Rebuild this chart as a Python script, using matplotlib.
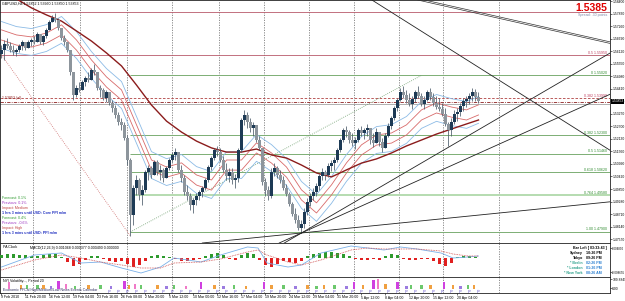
import numpy as np
import matplotlib
matplotlib.use("Agg")
import matplotlib.pyplot as plt

plt.rcParams['font.family'] = ['Liberation Sans', 'DejaVu Sans']
NARROW = ['Liberation Sans Narrow', 'Liberation Sans', 'DejaVu Sans']

# ---------------- data ----------------
# GBPUSD candles (prices in pips, 1 pip = 0.0001); each candle = 8 hours
open0_pips = 15600
high_pips = [15640, 15663, 15672, 15654, 15640, 15627, 15645, 15663, 15654, 15663,
             15672, 15681, 15699, 15690, 15686, 15718, 15754, 15777, 15786, 15763,
             15718, 15686, 15654, 15618, 15517, 15458, 15472, 15481, 15499, 15517,
             15536, 15554, 15517, 15458, 15445, 15436, 15426, 15390, 15367, 15335,
             15308, 15290, 15231, 15126, 15003, 15049, 15035, 15003, 15072, 15094,
             15090, 15117, 15117, 15094, 15081, 15090, 15126, 15153, 15172, 15153,
             15094, 15049, 15003, 14967, 14944, 14967, 14981, 14999, 15035, 15094,
             15135, 15172, 15181, 15172, 15135, 15103, 15081, 15081, 15053, 15172,
             15308, 15345, 15335, 15308, 15290, 15272, 15226, 15172, 15035, 14999,
             15081, 15103, 15090, 15072, 15044, 15008, 14971, 14926, 14899, 14867,
             14844, 14899, 14944, 14967, 14990, 15012, 15053, 15081, 15072, 15103,
             15117, 15131, 15172, 15217, 15263, 15272, 15254, 15240, 15222, 15263,
             15272, 15263, 15281, 15254, 15240, 15263, 15244, 15217, 15240, 15285,
             15317, 15363, 15399, 15445, 15454, 15436, 15422, 15408, 15436, 15454,
             15422, 15408, 15436, 15445, 15422, 15408, 15399, 15376, 15354, 15290,
             15308, 15345, 15354, 15376, 15399, 15408, 15422, 15445, 15440, 15426]
low_pips = [15581, 15572, 15627, 15608, 15595, 15590, 15608, 15618, 15618, 15627,
            15636, 15645, 15654, 15645, 15640, 15672, 15709, 15745, 15745, 15709,
            15663, 15640, 15608, 15504, 15390, 15404, 15426, 15436, 15454, 15472,
            15490, 15504, 15436, 15404, 15390, 15381, 15367, 15335, 15308, 15276,
            15254, 15208, 15094, 14771, 14821, 14958, 14935, 14912, 14971, 15026,
            15035, 15062, 15049, 15026, 15017, 15035, 15072, 15108, 15117, 15062,
            15017, 14958, 14935, 14890, 14876, 14912, 14935, 14949, 14981, 15017,
            15072, 15117, 15135, 15108, 15062, 15026, 15017, 15008, 14990, 15017,
            15153, 15276, 15263, 15244, 15226, 15199, 15163, 15003, 14953, 14935,
            14944, 15044, 15035, 15012, 14981, 14953, 14908, 14862, 14830, 14799,
            14785, 14808, 14867, 14908, 14935, 14953, 14981, 15026, 15026, 15040,
            15067, 15072, 15108, 15153, 15199, 15222, 15194, 15181, 15167, 15199,
            15226, 15213, 15226, 15190, 15176, 15199, 15181, 15153, 15176, 15222,
            15258, 15299, 15340, 15385, 15399, 15376, 15363, 15349, 15381, 15399,
            15363, 15349, 15385, 15390, 15363, 15349, 15340, 15317, 15272, 15181,
            15226, 15281, 15294, 15317, 15340, 15358, 15372, 15385, 15385, 15376]
close_pips = [15618, 15645, 15636, 15618, 15608, 15618, 15636, 15654, 15627, 15654,
              15663, 15654, 15690, 15654, 15681, 15709, 15745, 15763, 15754, 15718,
              15672, 15654, 15618, 15517, 15413, 15445, 15436, 15472, 15490, 15481,
              15527, 15517, 15445, 15436, 15399, 15426, 15376, 15354, 15322, 15290,
              15276, 15217, 15117, 14867, 14990, 15026, 14958, 14981, 15062, 15081,
              15049, 15108, 15062, 15072, 15035, 15081, 15117, 15140, 15153, 15072,
              15035, 14971, 14953, 14912, 14935, 14953, 14971, 14990, 15026, 15085,
              15126, 15163, 15153, 15117, 15072, 15044, 15062, 15026, 15035, 15163,
              15299, 15322, 15290, 15263, 15276, 15208, 15172, 15017, 14981, 14953,
              15062, 15081, 15049, 15026, 14990, 14962, 14917, 14871, 14844, 14808,
              14826, 14880, 14926, 14953, 14971, 14999, 15044, 15062, 15049, 15090,
              15103, 15117, 15163, 15208, 15254, 15244, 15208, 15194, 15208, 15254,
              15240, 15254, 15263, 15208, 15194, 15244, 15199, 15172, 15226, 15272,
              15308, 15354, 15390, 15426, 15413, 15390, 15372, 15395, 15426, 15408,
              15372, 15390, 15426, 15404, 15376, 15358, 15349, 15326, 15281, 15254,
              15290, 15326, 15335, 15363, 15385, 15395, 15408, 15426, 15404, 15385]

# moving averages read at sparse candles (pips)
ma_idx = [0, 5, 10, 15, 20, 25, 30, 35, 40, 45, 50, 55, 60, 65, 70, 75, 80,
          85, 90, 95, 100, 105, 110, 115, 120, 125, 130, 135, 140, 145, 150, 155, 159]
slow_ma_pips = [15881, 15850, 15809, 15777, 15749, 15704, 15658, 15604, 15545, 15458,
                15367, 15294, 15244, 15203, 15172, 15153, 15153, 15167, 15140, 15126,
                15094, 15058, 15040, 15072, 15103, 15122, 15149, 15181, 15208, 15235,
                15258, 15281, 15299]
env_mid_pips = [15686, 15663, 15654, 15672, 15709, 15640, 15549, 15472, 15413, 15254,
                15094, 15062, 15081, 15026, 15003, 15094, 15094, 15172, 15126, 15062,
                14958, 14899, 14981, 15081, 15163, 15208, 15217, 15254, 15322, 15354,
                15335, 15322, 15345]
env_inner_pips = 23
env_outer_pips = 61

# horizontal levels
red_levels = [1.5790, 1.5595]
red_level_labels = ["", "0.5 1.55950"]
red_dash_level = 1.5399
red_dash_label = "0.382 1.53990"
bid_level = 1.5385
fib_start_idx = 43
fib_levels = [1.5502, 1.5230, 1.5146, 1.5062, 1.4958, 1.4790]
fib_labels = ["0 1.55020", "0.382 1.52300", "0.5 1.51460", "0.618 1.50620",
              "0.764 1.49580", "1.00 1.47900"]

# trend lines (candle index, price)
low_anchor = (100, 1.4785)
fan_targets = [(166, 1.4876), (166, 1.5190), (176, 1.5390)]
desc_line = [(133, 1.5763), (203, 1.5160)]
chan_line = [(141, 1.5845), (203, 1.5654)]
dot_red = [(0, 1.5595), (43, 1.4771)]
dot_green = [(43, 1.4790), (140, 1.5502)]

week_sep_idx = [10.5, 26.2, 41.8, 56.8, 72.5, 87.5, 102.5, 117.5, 132.5, 147.2, 166.0]

time_tick_idx = [0, 8, 16, 24, 32, 40, 48, 56, 64, 72, 80, 88, 96, 104, 112, 120,
                 128, 136, 144, 152]
time_labels = ["9 Feb 2010", "11 Feb 20:00", "16 Feb 12:00", "19 Feb 04:00",
               "23 Feb 16:00", "26 Feb 08:00", "2 Mar 20:00", "5 Mar 12:00",
               "10 Mar 00:00", "12 Mar 16:00", "17 Mar 04:00", "19 Mar 20:00",
               "24 Mar 12:00", "29 Mar 04:00", "31 Mar 20:00", "5 Apr 12:00",
               "8 Apr 04:00", "12 Apr 20:00", "15 Apr 12:00", "20 Apr 04:00"]
price_ticks = [1.47570, 1.48140, 1.48710, 1.49280, 1.49850, 1.50420, 1.50990,
               1.51560, 1.52130, 1.52700, 1.53270, 1.53840, 1.54410, 1.54980,
               1.55550, 1.56120, 1.56690, 1.57260, 1.57830, 1.58400]

# MACD panel
hist_idx = [0, 2, 4, 6, 8, 10, 12, 14, 16, 18, 20, 22, 24, 26, 28, 30, 32, 34, 36, 38,
            40, 42, 44, 46, 48, 50, 52, 54, 56, 58, 60, 62, 64, 66, 68, 70, 72, 74, 76, 78,
            80, 82, 84, 86, 88, 90, 92, 94, 96, 98, 100, 102, 104, 106, 108, 110, 112, 114,
            116, 118, 120, 122, 124, 126, 128, 130, 132, 134, 136, 138, 140, 142, 144, 146,
            148, 150, 152, 154, 156, 158]
hist_vals = [0.0015, 0.0020, 0.0020, 0.0015, 0.0015, 0.0010, 0.0010, 0.0015, 0.0020, 0.0020,
             0.0005, -0.0020, -0.0040, -0.0030, -0.0010, 0.0010, 0.0010, -0.0005, -0.0015, -0.0020,
             -0.0015, -0.0030, -0.0045, -0.0035, -0.0015, 0.0010, 0.0015, 0.0010, 0.0005, -0.0005,
             -0.0015, -0.0015, -0.0010, -0.0005, 0.0010, 0.0020, 0.0025, 0.0015, -0.0005, -0.0010,
             0.0015, 0.0025, 0.0020, -0.0010, -0.0035, -0.0045, -0.0030, -0.0015, -0.0020, -0.0025,
             -0.0015, 0.0010, 0.0020, 0.0025, 0.0030, 0.0030, 0.0025, 0.0020, 0.0010, -0.0005,
             -0.0010, -0.0010, -0.0005, -0.0010, 0.0010, 0.0020, 0.0015, -0.0005, -0.0010, -0.0010,
             -0.0005, -0.0005, -0.0015, -0.0030, -0.0040, -0.0025, 0.0005, 0.0010, 0.0010, 0.0005]
macd_idx = [0, 11, 20, 26.5, 33, 40, 46.5, 53, 57.5, 66.5, 73, 82, 85.5, 88.5, 95.5, 100,
            106.5, 116.5, 122, 127.5, 133, 138.5, 146.5, 150.5, 155.5, 159]
macd_main = [-0.0045, 0.0015, 0.0025, -0.0025, -0.0020, -0.0050, -0.0075, -0.0045, 0.0000,
             -0.0020, 0.0015, 0.0055, 0.0050, -0.0025, -0.0045, -0.0035, 0.0025, 0.0060,
             0.0050, 0.0040, 0.0055, 0.0045, 0.0025, 0.0000, 0.0005, 0.0010]
macd_signal = [-0.0060, -0.0010, 0.0015, 0.0000, -0.0020, -0.0035, -0.0050, -0.0050, -0.0025,
               -0.0020, -0.0005, 0.0030, 0.0040, 0.0015, -0.0020, -0.0035, -0.0010, 0.0040,
               0.0050, 0.0045, 0.0045, 0.0045, 0.0035, 0.0020, 0.0010, 0.0010]

# volatility / news panel
vol_idx = [2.5, 6.5, 8.5, 12, 14, 16.5, 19, 21.5, 24.5, 29, 33, 36.5, 41, 42.5, 44.5, 46.5,
           52, 55, 57.5, 61.5, 66.5, 71, 74, 77.5, 81.5, 87.5, 90, 94, 98, 102, 105, 107.5,
           111, 115, 117.5, 120.5, 124, 125.5, 128, 132, 135, 136.5, 140, 143, 147.5, 150.5,
           153, 155.5, 157.5]
vol_h = [8, 5, 4, 4, 5, 3, 9, 6, 3, 5, 4, 3, 9, 5, 6, 4, 5, 3, 4, 3, 8, 5, 3, 4, 3, 8, 5, 4,
         3, 5, 3, 5, 4, 3, 8, 5, 10, 11, 6, 8, 3, 4, 4, 5, 8, 4, 3, 4, 5]
vol_kind = ["p", "o", "g", "g", "o", "v", "m", "p", "g", "o", "g", "v", "m", "o", "p", "g",
            "o", "v", "g", "p", "m", "o", "v", "g", "o", "m", "o", "g", "v", "o", "g", "o",
            "g", "v", "m", "o", "m", "p", "o", "m", "v", "g", "g", "o", "m", "o", "v", "g", "o"]
event_idx = [36, 39, 42, 45, 48, 51, 54, 57, 60, 63, 66, 69, 72, 75, 78, 81, 84, 87, 90, 93,
             96, 99, 102, 105, 108, 111, 114, 117, 120, 123, 126, 129, 132, 135, 138, 141,
             144, 147, 150, 153, 156, 159]

news_lines = [("Forecast: 0.1%", "#2e9a2e"), ("Previous: 0.1%", "#9a30c0"),
              ("Impact: Medium", "#c04040"), ("1 hrs 3 mins until USD: Core PPI m/m", "#1f2fc0"),
              ("Forecast: 0.4%", "#2e9a2e"), ("Previous: -0.6%", "#9a30c0"),
              ("Impact: High", "#c04040"), ("1 hrs 3 mins until USD: PPI m/m", "#1f2fc0")]
clock_rows = [("Sydney", "10:26 PM", "black", "black"), ("Tokyo", "09:26 PM", "black", "black"),
              ("* Berlin", "02:26 PM", "#2aa08a", "#2a7fd0"), ("* London", "01:26 PM", "#2aa08a", "#2a7fd0"),
              ("* New York", "08:26 AM", "#2aa08a", "#2a7fd0")]

# ---------------- figure ----------------
W, H = 625, 301
PXR = 610
fig = plt.figure(figsize=(W / 100, H / 100), dpi=100)
fig.patch.set_facecolor("white")


def rect(x0, y0, x1, y1):
    return [x0 / W, 1 - y1 / H, (x1 - x0) / W, (y1 - y0) / H]


def ftext(x, y, s, **kw):
    fig.text(x / W, 1 - y / H, s, **kw)


ax = fig.add_axes(rect(0, 0, PXR, 243))
axm = fig.add_axes(rect(0, 243, PXR, 277))
axv = fig.add_axes(rect(0, 277, PXR, 293))
XL = (-0.5, (PXR - 1.5) / 3)
TS = 2.6
for a in (ax, axm, axv):
    a.set_xlim(*XL)
    for s in a.spines.values():
        s.set_linewidth(0.6)
        s.set_color("#202020")
    a.yaxis.tick_right()
    a.tick_params(axis="y", length=1.2, width=0.4, labelsize=2.4, pad=0.5, colors="black")
    a.tick_params(axis="x", length=0, labelbottom=False)
    for xs in week_sep_idx:
        a.axvline(xs, color="#505050", lw=0.45, ls=(0, (2, 2)), zorder=0)

ax.set_ylim(1.47394, 1.5845)

o = np.array([open0_pips] + close_pips[:-1]) * 1e-4
c = np.array(close_pips) * 1e-4
hi = np.maximum(np.array(high_pips) * 1e-4, np.maximum(o, c))
lo = np.minimum(np.array(low_pips) * 1e-4, np.minimum(o, c))
xi = np.arange(len(c))
up = c >= o
ax.vlines(xi, lo, hi, color="#4a5a68", lw=0.55, zorder=4)
body_b = np.minimum(o, c)
body_h = np.maximum(np.abs(c - o), 0.00006)
ax.bar(xi[up], body_h[up], bottom=body_b[up], width=0.7, color="#1d3a55", lw=0, zorder=5)
ax.bar(xi[~up], body_h[~up], bottom=body_b[~up], width=0.7, color="#8d959c", lw=0, zorder=5)

mi = np.array(ma_idx)
mid = np.array(env_mid_pips) * 1e-4
ax.plot(mi, mid + env_outer_pips * 1e-4, color="#8cbbe6", lw=0.6, zorder=3)
ax.plot(mi, mid - env_outer_pips * 1e-4, color="#8cbbe6", lw=0.6, zorder=3)
ax.plot(mi, mid + env_inner_pips * 1e-4, color="#d86a6a", lw=0.6, zorder=3)
ax.plot(mi, mid - env_inner_pips * 1e-4, color="#d86a6a", lw=0.6, zorder=3)
ax.plot(mi, np.array(slow_ma_pips) * 1e-4, color="#8b1c1c", lw=1.0, zorder=3)

# horizontal levels
for lv, lb in zip(red_levels, red_level_labels):
    ax.axhline(lv, color="#b85a6a", lw=0.6, zorder=2)
    if lb:
        ax.text(XL[1] - 1, lv + 0.0002, lb, fontsize=TS, color="#c04060", ha="right",
                va="bottom", family=NARROW)
ax.axhline(red_dash_level, color="#b04040", lw=0.6, ls=(0, (3, 2)), zorder=2)
ax.text(XL[1] - 1, red_dash_level + 0.0002, red_dash_label, fontsize=TS, color="#c04060",
        ha="right", va="bottom", family=NARROW)
ax.axhline(bid_level - 0.0003, color="#8b1c1c", lw=0.6, ls=(0, (4, 1.5, 1, 1.5)), zorder=2)
ax.axhline(bid_level - 0.0014, color="#909090", lw=0.5, zorder=2)
for lv, lb in zip(fib_levels, fib_labels):
    lw = 1.4 if lb.startswith("0.764") else 0.7
    col = "#b6dcb0" if lb.startswith("0.764") else "#7cae74"
    ax.hlines(lv, fib_start_idx, XL[1], color=col, lw=lw, zorder=2)
    ax.text(XL[1] - 1, lv + 0.0002, lb, fontsize=TS, color="#2e8a2e", ha="right",
            va="bottom", family=NARROW)

# trend lines
for tg in fan_targets:
    ax.axline(low_anchor, tg, color="#222222", lw=0.6, zorder=6)
ax.axline(desc_line[0], desc_line[1], color="#222222", lw=0.6, zorder=6)
ax.axline(chan_line[0], chan_line[1], color="#333333", lw=0.5, zorder=6)
ax.axline((chan_line[0][0], chan_line[0][1] - 0.0007), (chan_line[1][0], chan_line[1][1] - 0.0007),
          color="#333333", lw=0.5, zorder=6)
ax.plot(*zip(*dot_red), color="#d07070", lw=0.6, ls=(0, (1, 1.5)), zorder=2)
ax.plot(*zip(*dot_green), color="#70a070", lw=0.6, ls=(0, (1, 1.5)), zorder=2)

ax.set_yticks(price_ticks)
ax.set_yticklabels([f"{p:.5f}" for p in price_ticks], family=NARROW)
ax.text(XL[1] + 0.5, bid_level, "1.53853", fontsize=2.4, color="white", ha="left", va="center",
        transform=ax.transData, clip_on=False, zorder=10, family=NARROW,
        bbox=dict(boxstyle="square,pad=0.15", fc="black", ec="none"))

# texts in main chart
ftext(2, 4, "GBPUSD,H4 1.53852 1.53960 1.53850 1.53853", fontsize=TS, color="black",
      va="center", family=NARROW)
ftext(607, 8, "1.5385", fontsize=7.5, color="#e00000", weight="bold", ha="right", va="center")
ftext(607, 15, "Spread: .30 points", fontsize=TS, color="#7c8aa8", ha="right", va="center")
ftext(2, 98, "1.53853 (al)", fontsize=TS, color="#8b1c1c", va="center", family=NARROW)
for k, (s, col) in enumerate(news_lines):
    ftext(2, 198 + k * 5.0, s, fontsize=TS, color=col, va="center", family=NARROW,
          weight="bold" if s.startswith("1 hrs") else "normal")

# MACD panel
axm.set_ylim(-0.0095, 0.0075)
hv = np.array(hist_vals)
hx = np.array(hist_idx)
axm.bar(hx[hv >= 0], hv[hv >= 0], width=1.3, color="#2d9a2d", lw=0, zorder=3)
axm.bar(hx[hv < 0], hv[hv < 0], width=1.3, color="#e02020", lw=0, zorder=3)
axm.plot(macd_idx, macd_main, color="#7ab0e8", lw=0.6, zorder=4)
axm.plot(macd_idx, macd_signal, color="#d05050", lw=0.6, ls=(0, (1, 1)), zorder=4)
axm.set_yticks([0.0050, -0.0072])
axm.set_yticklabels(["0.004890", "-0.008655"], family=NARROW)
for t in axm.get_yticklabels():
    t.set_fontsize(2.1)
ftext(3, 247.5, "PA Clock", fontsize=TS, color="black", va="center")
ftext(30, 247.5, "MACD(12,26,9) 0.001068 0.000377 0.000490 0.000000", fontsize=TS,
      color="black", va="center", family=NARROW)
ftext(607, 247.5, "Bar Left [ 03:33:43 ]", fontsize=TS, color="black", ha="right",
      va="center", weight="bold")
for k, (nm, tm, c1, c2) in enumerate(clock_rows):
    yy = 253 + k * 5.0
    ftext(583, yy, nm, fontsize=TS, color=c1, ha="right", va="center", weight="bold")
    ftext(586, yy, tm, fontsize=TS, color=c2, ha="left", va="center", weight="bold")

# volatility / news panel
cmap = {"p": "#f07ac8", "o": "#f0a040", "g": "#6cc86c", "m": "#d040e0", "v": "#9c7ce0"}
axv.set_ylim(-4, 13)
axv.bar(vol_idx, vol_h, width=0.7, color=[cmap[k] for k in vol_kind], lw=0, zorder=3)
axv.scatter(event_idx, [-2] * len(event_idx), marker="$\\mathsf{P}$", s=5, color="#6a5acd",
            lw=0, zorder=4)
axv.set_yticks([10.5, 1])
axv.set_yticklabels(["109.8849", "0.00"], family=NARROW)
ftext(3, 281, "NYI Volatility..., Period 20", fontsize=TS, color="black", va="center",
      family=NARROW)
ftext(3, 290, "Economic FFCal High/Medium/Low News Events Calendar", fontsize=TS,
      color="#303060", va="center", family=NARROW)

axv.set_xticks(time_tick_idx)
axv.set_xticklabels(time_labels, family=NARROW)
axv.tick_params(axis="x", length=1.2, width=0.4, labelbottom=True, labelsize=2.6, pad=0.6)
for t in axv.get_xticklabels():
    t.set_ha("left")

fig.savefig("out.png", dpi=100, facecolor="white")
